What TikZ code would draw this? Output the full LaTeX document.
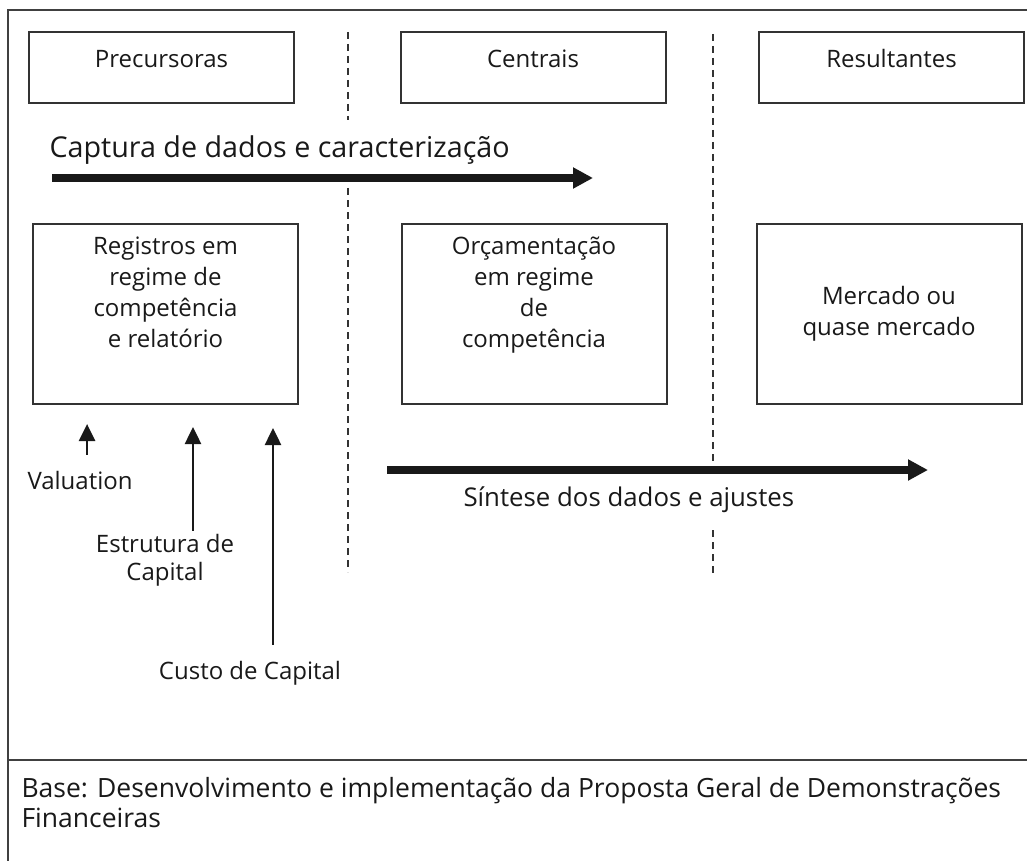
\documentclass[tikz,border=0pt]{standalone}
\usepackage{fontspec}
\setmainfont{Open Sans}
\usetikzlibrary{arrows.meta,positioning}

\begin{document}
\begin{tikzpicture}[x=1pt, y=-1pt,
    caixa/.style={draw=black!80, line width=2pt, inner sep=0pt},
    cabec/.style={caixa, minimum width=265pt, minimum height=71pt, text height=17pt, text depth=17pt, font=\fontsize{24}{31}\selectfont, text=black!90},
    corpo/.style={caixa, minimum width=265pt, minimum height=180pt},
    texto/.style={align=center, font=\fontsize{24}{31}\selectfont, text=black!90},
    grande/.style={font=\fontsize{26.5}{30}\selectfont, text=black!90},
    divisa/.style={black!80, line width=1.6pt, dash pattern=on 7pt off 5pt},
    setagrossa/.style={-{Triangle[width=20pt,length=20pt]}, line width=8pt, black!90},
    setafina/.style={-{Triangle[width=16pt,length=17pt]}, line width=2.5pt, black!90}]
    \useasboundingbox (0,0) rectangle (1027,861);

    % moldura
    \draw[black!75, line width=2pt] (1027,10) -- (8,10) -- (8,861);
    \draw[black!75, line width=2pt] (8,760) -- (1027,760);

    % divisorias tracejadas
    \draw[divisa] (348,32) -- (348,120) (348,188) -- (348,572);
    \draw[divisa] (713,34) -- (713,463) (713,530) -- (713,575);

    % cabecalhos
    \node[cabec] (prec) at (161.5,68) {Precursoras};
    \node[cabec] (cent) at (533,68) {Centrais};
    \node[cabec] (resu) at (891.5,68) {Resultantes};

    % caixas
    \node[corpo] (reg) at (165.5,314) {};
    \node[corpo] (orc) at (534,314) {};
    \node[corpo] (merc) at (889,314) {};
    \node[texto, below=10.5pt of reg.north] (treg) {Registros em\\regime de\\competência\\e relatório};
    \node[texto, below=10.5pt of orc.north] (torc) {Orçamentação\\em regime\\de\\competência};
    \node[texto] (tmerc) at (merc) {Mercado ou\\quase mercado};

    % fluxos
    \node[grande, font=\fontsize{28.7}{30}\selectfont, anchor=base west] (capt) at (46,158) {Captura de dados e caracterização};
    \coordinate (capini) at (52,178);
    \coordinate (capfim) at (593,178);
    \draw[setagrossa] (capini) -- (capfim);

    \coordinate (sinini) at (387,470);
    \coordinate (sinfim) at (928,470);
    \draw[setagrossa] (sinini) -- (sinfim);
    \node[grande, font=\fontsize{25.8}{30}\selectfont, anchor=base west] (sint) at (460,506) {Síntese dos dados e ajustes};

    % insumos
    \node[texto, anchor=base west] (val) at (24,489) {Valuation};
    \node[texto, font=\fontsize{24}{28}\selectfont, anchor=north] (estr) at (165,530.5) {Estrutura de\\Capital};
    \node[texto, anchor=base] (custo) at (250,679) {Custo de Capital};

    \coordinate (pval) at ([xshift=7pt, yshift=12.5pt]val.north);
    \coordinate (pestr) at ([xshift=28pt]estr.north);
    \coordinate (pcusto) at ([xshift=23pt, yshift=12.5pt]custo.north);
    \draw[setafina, shorten >=19pt] (pval) -- (pval |- reg.south);
    \draw[setafina, shorten >=22pt] (pestr) -- (pestr |- reg.south);
    \draw[setafina, shorten >=23pt] (pcusto) -- (pcusto |- reg.south);

    % rodape
    \node[grande, align=left, anchor=north west] (base) at (18,774) {Base: Desenvolvimento e implementação da Proposta Geral de Demonstrações\\Financeiras};
\end{tikzpicture}
\end{document}
